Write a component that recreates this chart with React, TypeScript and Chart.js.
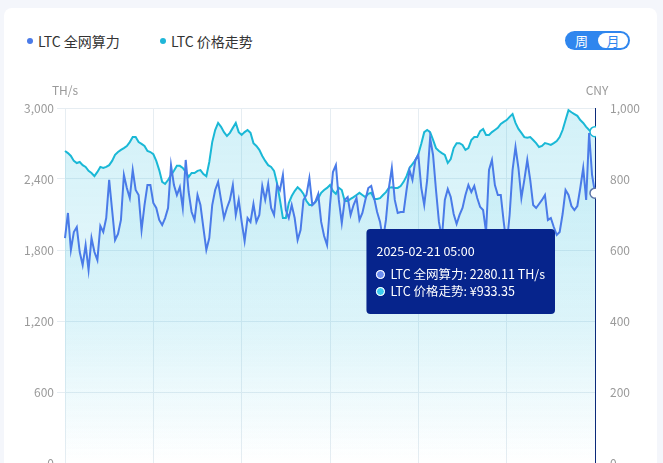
import React, { useEffect, useRef } from 'react';
import { Chart, registerables, Tooltip } from 'chart.js';

Chart.register(...registerables);

const HASH_LABEL = 'LTC 全网算力';
const PRICE_LABEL = 'LTC 价格走势';
const HASH_UNIT = 'TH/s';
const PRICE_UNIT = 'CNY';
const PERIOD_LABELS = ['周', '月'];

const HASH_COLOR = '#4a7be8';
const PRICE_COLOR = '#1ab8d6';

// LTC network hashrate (TH/s), 4-hourly
const hashrate = [
  1901, 2113, 1800, 1952, 1994, 1783, 1673, 1842, 1631, 1901,
  1783, 1715, 2003, 1952, 2070, 2392, 2138, 1884, 1935, 2054,
  2434, 2324, 2239, 2476, 2307, 2265, 1969, 2180, 2349, 2349,
  2197, 2155, 2054, 2011, 2070, 2155, 2518, 2349, 2265, 2332,
  2155, 2561, 2290, 2121, 2054, 2265, 2180, 1986, 1800, 1901,
  2180, 2307, 2375, 2223, 2070, 2155, 2223, 2349, 2096, 2223,
  2037, 1876, 2070, 2037, 2189, 2037, 2096, 2341, 2223, 2358,
  2155, 2096, 2349, 2307, 2434, 2138, 2070, 2180, 2070, 1884,
  1969, 2223, 2265, 2408, 2180, 2206, 2273, 2037, 1918, 1842,
  2180, 2459, 2518, 2223, 2028, 2223, 2248, 2096, 2180, 2239,
  2054, 2113, 2223, 2324, 2341, 2239, 2121, 2037, 1884, 2054,
  2324, 2493, 2223, 2113, 2121, 2121, 2307, 2476, 2392, 2561,
  2603, 2324, 2180, 2392, 2746, 2603, 2307, 2037, 1901, 2223,
  2315, 2248, 2104, 2020, 2096, 2155, 2265, 2349, 2290, 2341,
  2239, 2163, 2138, 1952, 2476, 2561, 2349, 2265, 2265, 2037,
  1842, 2096, 2476, 2670, 2493, 2239, 2392, 2561, 2392, 2180,
  2155, 2189, 2223, 2265, 2054, 2070, 1994, 1927, 1952, 2104,
  2307, 2265, 2172, 2138, 2172, 2324, 2493, 2223, 2789, 2434,
  2280.11,
];

// LTC price (CNY), 4-hourly
const price = [
  879, 873, 865, 851, 845, 848, 839, 834, 823, 817,
  808, 820, 834, 831, 834, 839, 851, 868, 876, 882,
  887, 893, 904, 918, 918, 904, 899, 893, 879, 876,
  870, 851, 825, 792, 786, 797, 811, 823, 837, 837,
  831, 820, 806, 817, 817, 823, 825, 814, 808, 848,
  904, 938, 958, 947, 932, 921, 930, 944, 958, 932,
  924, 932, 938, 930, 901, 893, 882, 865, 851, 839,
  834, 823, 789, 741, 690, 690, 732, 752, 766, 777,
  769, 758, 738, 727, 727, 735, 746, 761, 769, 775,
  783, 766, 758, 775, 769, 738, 738, 744, 749, 755,
  761, 755, 749, 758, 761, 744, 744, 746, 755, 763,
  775, 777, 775, 775, 780, 792, 808, 831, 842, 853,
  870, 899, 932, 938, 932, 910, 887, 879, 873, 868,
  845, 856, 887, 901, 901, 896, 882, 887, 910, 918,
  918, 935, 941, 924, 924, 932, 938, 944, 955, 961,
  966, 975, 983, 958, 941, 930, 918, 916, 918, 910,
  901, 890, 893, 901, 899, 896, 901, 907, 918, 938,
  966, 994, 988, 983, 978, 966, 958, 947, 938, 932,
  933.35,
];

const leftTicks = [0, 600, 1200, 1800, 2400, 3000];
const rightTicks = [0, 200, 400, 600, 800, 1000];

const START_UTC = Date.UTC(2025, 0, 22, 5, 0);
const STEP_HOURS = 4;
const GRID_EVERY = 30;

const pad = (n: number) => String(n).padStart(2, '0');
const fmtTime = (ms: number) => {
  const d = new Date(ms);
  return `${d.getUTCFullYear()}-${pad(d.getUTCMonth() + 1)}-${pad(d.getUTCDate())} ${pad(d.getUTCHours())}:${pad(d.getUTCMinutes())}`;
};
const categories = hashrate.map((_, i) => fmtTime(START_UTC + i * STEP_HOURS * 3600 * 1000));

const FONT = "'Noto Sans CJK SC', 'Noto Sans', sans-serif";

const gradient = (stops: [number, number][]) => (ctx: any) => {
  const chart = ctx.chart;
  const area = chart.chartArea;
  if (!area) return `rgba(30,185,220,${stops[0][1]})`;
  const g = chart.ctx.createLinearGradient(0, area.top, 0, area.bottom);
  stops.forEach(([p, a]) => g.addColorStop(p, `rgba(30,185,220,${a})`));
  return g;
};

const crosshair = {
  id: 'crosshair',
  beforeDatasetsDraw(chart: any) {
    const act = chart.getActiveElements();
    if (!act.length) return;
    const x = act[0].element.x;
    const { top, bottom } = chart.chartArea;
    const c = chart.ctx;
    c.save();
    c.strokeStyle = '#0b2a7a';
    c.lineWidth = 1;
    c.beginPath();
    c.moveTo(Math.round(x) + 0.5, top);
    c.lineTo(Math.round(x) + 0.5, bottom);
    c.stroke();
    c.restore();
  },
};

const unitTitles = {
  id: 'unitTitles',
  afterDraw(chart: any) {
    const { top, left, right } = chart.chartArea;
    const c = chart.ctx;
    c.save();
    c.font = `12px ${FONT}`;
    c.fillStyle = '#9a9a9a';
    c.textAlign = 'center';
    c.textBaseline = 'middle';
    c.fillText(HASH_UNIT, left, top - 18);
    c.fillText(PRICE_UNIT, right + 2, top - 18);
    c.restore();
  },
};

export default function App() {
  const ref = useRef<HTMLCanvasElement>(null);

  useEffect(() => {
    const canvas = ref.current;
    if (!canvas) return;
    (Tooltip as any).positioners.fixedLeft = function (items: any[]) {
      if (!items.length) return false;
      const chart = this.chart;
      return { x: items[0].element.x - 44, y: chart.chartArea.top + 121 };
    };

    const chart = new Chart(canvas, {
      type: 'line',
      data: {
        labels: categories,
        datasets: [
          {
            label: HASH_LABEL,
            data: hashrate,
            yAxisID: 'y',
            borderColor: HASH_COLOR,
            borderWidth: 2,
            tension: 0,
            pointRadius: 0,
            pointHoverRadius: 5,
            pointHoverBackgroundColor: '#ffffff',
            pointHoverBorderColor: '#5b74a8',
            pointHoverBorderWidth: 1.5,
            fill: 'origin',
            backgroundColor: gradient([[0, 0.1], [0.6, 0.06], [1, 0.0]]),
          },
          {
            label: PRICE_LABEL,
            data: price,
            yAxisID: 'y1',
            borderColor: PRICE_COLOR,
            borderWidth: 2,
            tension: 0,
            pointRadius: 0,
            pointHoverRadius: 5,
            pointHoverBackgroundColor: '#ffffff',
            pointHoverBorderColor: PRICE_COLOR,
            pointHoverBorderWidth: 1.5,
            fill: 'origin',
            backgroundColor: gradient([[0, 0.2], [0.6, 0.1], [1, 0.0]]),
          },
        ],
      },
      options: {
        responsive: false,
        animation: false,
        events: [],
        layout: { padding: { top: 48, left: 0, right: 0, bottom: 0 } },
        interaction: { mode: 'index', intersect: false },
        scales: {
          x: {
            type: 'category',
            afterBuildTicks: (scale: any) => {
              scale.ticks = scale.ticks.filter((t: any) => t.value % GRID_EVERY === 0);
            },
            afterFit: (scale: any) => {
              scale.height = 37;
            },
            ticks: {
              autoSkip: false,
              maxRotation: 0,
              color: '#9a9a9a',
              font: { size: 12, family: FONT },
              callback: (v: any) => String(categories[v as number]).slice(5, 10),
            },
            grid: { color: '#e6edf2', drawTicks: false },
            border: { display: false },
          },
          y: {
            position: 'left',
            min: leftTicks[0],
            max: leftTicks[leftTicks.length - 1],
            afterBuildTicks: (scale: any) => {
              scale.ticks = leftTicks.map((v) => ({ value: v }));
            },
            afterFit: (scale: any) => {
              scale.width = 61;
            },
            ticks: {
              color: '#9a9a9a',
              padding: 3,
              font: { size: 12, family: FONT },
              callback: (v: any) => Number(v).toLocaleString('en-US'),
            },
            grid: { color: '#e6edf2', tickLength: 8 },
            border: { display: false },
          },
          y1: {
            position: 'right',
            min: rightTicks[0],
            max: rightTicks[rightTicks.length - 1],
            afterBuildTicks: (scale: any) => {
              scale.ticks = rightTicks.map((v) => ({ value: v }));
            },
            afterFit: (scale: any) => {
              scale.width = 62;
            },
            ticks: {
              color: '#9a9a9a',
              padding: 15,
              font: { size: 12, family: FONT },
              callback: (v: any) => Number(v).toLocaleString('en-US'),
            },
            grid: { display: false, drawTicks: false },
            border: { display: false },
          },
        },
        plugins: {
          legend: { display: false },
          filler: { drawTime: 'beforeDatasetsDraw' },
          tooltip: {
            enabled: true,
            position: 'fixedLeft' as any,
            xAlign: 'right',
            yAlign: 'top',
            caretSize: 0,
            caretPadding: 0,
            cornerRadius: 4,
            backgroundColor: '#06248c',
            padding: { top: 15, bottom: 15, left: 10, right: 10 },
            titleFont: { size: 12.5, weight: 'normal', family: FONT },
            bodyFont: { size: 12.5, family: FONT },
            titleColor: '#ffffff',
            bodyColor: '#ffffff',
            titleMarginBottom: 8,
            bodySpacing: 2,
            displayColors: true,
            usePointStyle: true,
            boxWidth: 8,
            boxHeight: 8,
            boxPadding: 4,
            callbacks: {
              title: (items: any[]) => categories[items[0].dataIndex],
              label: (item: any) => {
                const v = Number(item.raw).toFixed(2);
                return item.datasetIndex === 0
                  ? `${HASH_LABEL}: ${v} ${HASH_UNIT}`
                  : `${PRICE_LABEL}: ¥${v}`;
              },
              labelColor: (item: any) => ({
                borderColor: '#ffffff',
                backgroundColor: item.datasetIndex === 0 ? '#6e8ef0' : '#3ccbef',
                borderWidth: 1,
              }),
              labelPointStyle: () => ({ pointStyle: 'circle', rotation: 0 }),
            },
          },
        },
      },
      plugins: [crosshair, unitTitles],
    } as any);

    const last = categories.length - 1;
    const active = [
      { datasetIndex: 0, index: last },
      { datasetIndex: 1, index: last },
    ];
    chart.setActiveElements(active);
    (chart as any).tooltip.setActiveElements(active, { x: 0, y: 0 });
    chart.update();

    return () => chart.destroy();
  }, []);

  const legendItem = (left: number, color: string, text: string) => (
    <div
      style={{
        position: 'absolute',
        left,
        top: 31,
        height: 20,
        display: 'flex',
        alignItems: 'center',
        fontSize: 14,
        color: '#333',
        whiteSpace: 'nowrap',
      }}
    >
      <span
        style={{
          width: 6,
          height: 6,
          borderRadius: 3,
          background: color,
          marginRight: 5,
          display: 'inline-block',
        }}
      />
      {text}
    </div>
  );

  return (
    <div
      style={{
        position: 'fixed',
        left: 0,
        top: 0,
        width: 663,
        height: 463,
        overflow: 'hidden',
        background: '#f4f6fb',
        fontFamily: FONT,
      }}
    >
      <div
        style={{
          position: 'absolute',
          left: 4,
          top: 8,
          width: 653,
          height: 560,
          background: '#ffffff',
          borderRadius: 8,
        }}
      />
      {legendItem(27, HASH_COLOR, HASH_LABEL)}
      {legendItem(160, '#1fb6d8', PRICE_LABEL)}
      <div
        style={{
          position: 'absolute',
          left: 565,
          top: 31,
          width: 65,
          height: 19,
          borderRadius: 10,
          background: '#2f86ee',
          boxSizing: 'border-box',
        }}
      >
        <div
          style={{
            position: 'absolute',
            left: 0,
            top: 0,
            width: 33,
            height: 19,
            lineHeight: '19px',
            textAlign: 'center',
            color: '#ffffff',
            fontSize: 13,
          }}
        >
          {PERIOD_LABELS[0]}
        </div>
        <div
          style={{
            position: 'absolute',
            left: 33,
            top: 2,
            width: 30,
            height: 15,
            lineHeight: '15px',
            borderRadius: 8,
            background: '#ffffff',
            textAlign: 'center',
            color: '#2f86ee',
            fontSize: 13,
          }}
        >
          {PERIOD_LABELS[1]}
        </div>
      </div>
      <canvas
        ref={ref}
        width={653}
        height={440}
        style={{ position: 'absolute', left: 4, top: 60, width: 653, height: 440 }}
      />
    </div>
  );
}
